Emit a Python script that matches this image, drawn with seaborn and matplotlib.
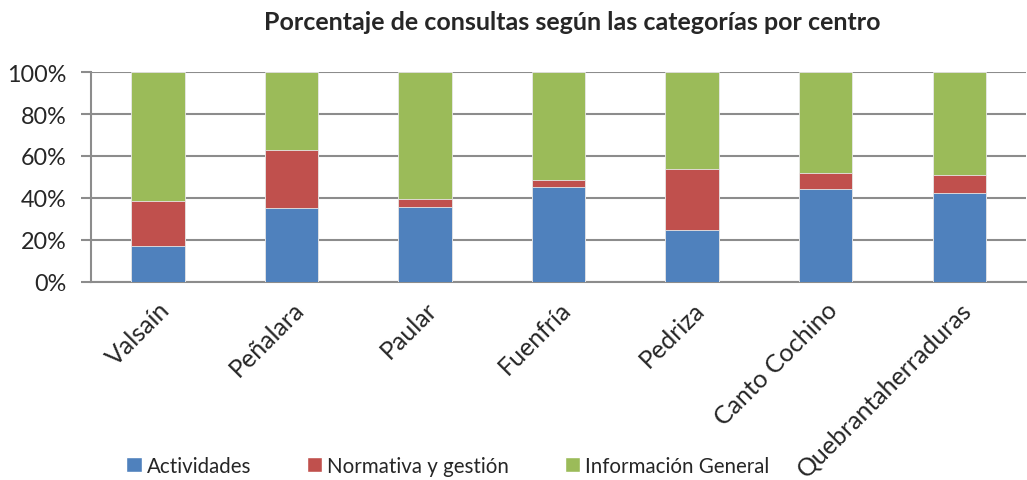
import numpy as np
import pandas as pd
import matplotlib.pyplot as plt
import seaborn as sns
from matplotlib.patches import Patch

# values (percent of queries per centre)
centros = ["Valsaín", "Peñalara", "Paular", "Fuenfría", "Pedriza",
           "Canto Cochino", "Quebrantaherraduras"]
actividades = [17.1, 35.2, 35.5, 45.0, 24.8, 44.3, 42.4]
normativa = [21.4, 27.7, 4.2, 3.5, 28.8, 7.5, 8.6]
informacion = [61.5, 37.1, 60.3, 51.5, 46.4, 48.2, 49.0]

colores = {"Actividades": "#4F81BD", "Normativa y gestión": "#C0504D",
           "Información General": "#9BBB59"}

df = pd.DataFrame({"centro": centros, "act": actividades,
                   "norm": normativa, "info": informacion})
df["c1"] = df["act"]
df["c2"] = df["act"] + df["norm"]
df["c3"] = df["c2"] + df["info"]

sns.set_style("white")
plt.rcParams["font.family"] = ["Lato", "DejaVu Sans"]

fig = plt.figure(figsize=(10.27, 4.81), dpi=100)
ax = fig.add_axes([0.089, 0.412, 0.91, 0.436])

for col, key in [("c3", "Información General"), ("c2", "Normativa y gestión"),
                 ("c1", "Actividades")]:
    sns.barplot(data=df, x="centro", y=col, color=colores[key], width=0.4,
                saturation=1, edgecolor="#e8e8e8", linewidth=0.6, ax=ax,
                zorder=3)

ax.set_ylim(0, 100)
ax.set_xlim(-0.5, len(centros) - 0.5)
ax.set_yticks(np.arange(0, 101, 20))
ax.set_yticklabels([f"{v}%" for v in range(0, 101, 20)], fontsize=16.8)
ax.yaxis.grid(True, color="#8c8c8c", linewidth=1.5, zorder=0)
ax.set_axisbelow(True)
ax.set_xlabel("")
ax.set_ylabel("")

# category labels at bar centres, boundary ticks in between
ax.set_xticks(range(len(centros)))
ax.set_xticklabels(centros, rotation=45, ha="right", rotation_mode="anchor",
                   fontsize=18)
ax.tick_params(axis="x", length=0, pad=11)
ax.set_xticks(np.arange(-0.5, len(centros), 1), minor=True)
ax.tick_params(axis="x", which="minor", length=7, width=1.5, color="#8c8c8c")
ax.tick_params(axis="y", length=7, width=1.5, color="#8c8c8c", left=True,
               pad=11)

for s in ["top", "right"]:
    ax.spines[s].set_visible(False)
for s in ["left", "bottom"]:
    ax.spines[s].set_color("#8c8c8c")
    ax.spines[s].set_linewidth(1.5)

fig.suptitle("Porcentaje de consultas según las categorías por centro",
             x=0.557, y=0.978, fontsize=18, fontweight="bold")

handles = [Patch(facecolor=c, label=k) for k, c in colores.items()]
fig.legend(handles=handles, loc="lower left", bbox_to_anchor=(0.105, -0.03),
           ncol=3, frameon=False, fontsize=14.8, handlelength=0.75,
           handleheight=0.75, handletextpad=0.25, columnspacing=2.7)

fig.savefig("out.png", dpi=100)
